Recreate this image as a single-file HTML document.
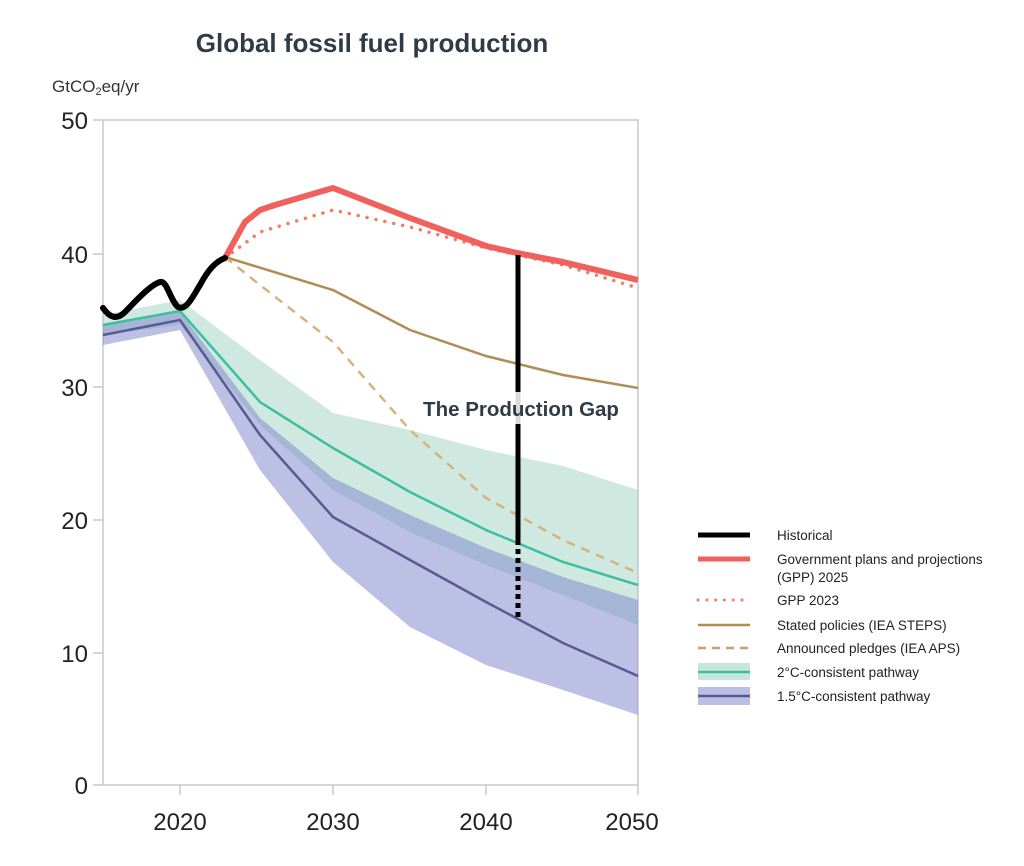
<!DOCTYPE html>
<html><head><meta charset="utf-8"><style>
body{margin:0;background:#fff}
svg{display:block}
text{font-family:"Liberation Sans",sans-serif}
</style></head><body>
<svg width="1024" height="866" viewBox="0 0 1024 866">
<text x="372" y="52" text-anchor="middle" font-size="26" font-weight="bold" fill="#2f3b45">Global fossil fuel production</text>
<text x="52" y="92" font-size="17" fill="#333">GtCO<tspan font-size="11" dy="3">2</tspan><tspan dy="-3">eq/yr</tspan></text>
<g stroke="#c8c8cc" stroke-width="1.5" fill="none">
<path d="M93 120H638V785M103 120V785H638M93 254H103M93 387H103M93 520H103M93 653H103M93 785H103M180 785V795M333 785V795M486 785V795M638 785V795"/>
</g>
<g font-size="24" fill="#222" text-anchor="end">
<text x="88" y="129">50</text><text x="88" y="263">40</text><text x="88" y="396">30</text><text x="88" y="529">20</text><text x="88" y="662">10</text><text x="88" y="794">0</text>
</g>
<g font-size="24" fill="#222" text-anchor="middle">
<text x="180" y="830">2020</text><text x="333" y="830">2030</text><text x="486" y="830">2040</text><text x="632" y="830">2050</text>
</g>
<path d="M103 315L180 300L260 360L333 413L410 430L486 450L563 466L638 490L638 625L563 595L486 565L410 532L333 490L260 425L180 325L103 335Z" fill="#9fd3c2" opacity="0.5"/>
<path d="M103 326L180 312L260 418L333 478L410 515L486 548L563 577L638 600L638 715L563 690L486 665L410 627L333 562L260 470L180 330L103 345Z" fill="#7b81cc" opacity="0.5"/>
<polyline points="103,325 180,311 260,402 333,448 410,492 486,530 563,562 638,585" fill="none" stroke="#3dbf9e" stroke-width="2.5"/>
<polyline points="103,335 180,320 260,435 333,517 410,560 486,602 563,643 638,676" fill="none" stroke="#5a5a8e" stroke-width="2.5"/>
<polyline points="225,257 333,290 410,330 486,356 563,375 638,388" fill="none" stroke="#b08d57" stroke-width="2.5"/>
<polyline points="225,257 260,285 333,342 410,430 486,498 563,540 638,573" fill="none" stroke="#d8b27e" stroke-width="2.5" stroke-dasharray="9,7"/>
<polyline points="225,258 260,232 333,210 410,227 486,248 563,265 638,288" fill="none" stroke="#f08060" stroke-width="3.5" stroke-dasharray="0.1,9" stroke-linecap="round"/>
<polyline points="225,258 245,222 260,210 275,205 333,188 410,218 486,246 517,253 563,262 638,280" fill="none" stroke="#f0605c" stroke-width="6" stroke-linejoin="round"/>
<path d="M103,308 C110,318 117,320 125,312 C135,302 150,285 160,282 C167,280 170,300 178,307 C186,311 192,298 200,285 C208,270 215,262 225,258" fill="none" stroke="#000" stroke-width="6" stroke-linecap="round"/>
<path d="M518 255V540" stroke="#000" stroke-width="5"/>
<path d="M518 540V620" stroke="#000" stroke-width="5" stroke-dasharray="5,4"/>
<rect x="418" y="392" width="206" height="32" fill="#fff" opacity="0.85"/>
<text x="521" y="416" text-anchor="middle" font-size="20.5" font-weight="bold" fill="#2f3b45">The Production Gap</text>
<g font-size="13.5" fill="#222">
<path d="M698 535H750" stroke="#000" stroke-width="5"/><text x="777" y="540">Historical</text>
<path d="M698 559H750" stroke="#f0605c" stroke-width="5"/><text x="777" y="564">Government plans and projections</text><text x="777" y="582">(GPP) 2025</text>
<path d="M698 600H750" stroke="#f08060" stroke-width="3" stroke-dasharray="0.1,8.7" stroke-linecap="round"/><text x="777" y="605">GPP 2023</text>
<path d="M698 625H750" stroke="#b08d57" stroke-width="2.5"/><text x="777" y="630">Stated policies (IEA STEPS)</text>
<path d="M698 648H750" stroke="#c9a06c" stroke-width="2.5" stroke-dasharray="8,6"/><text x="777" y="653">Announced pledges (IEA APS)</text>
<rect x="698" y="663" width="52" height="17" fill="#c9e6dc"/><path d="M698 672H750" stroke="#3dbf9e" stroke-width="2.5"/><text x="777" y="677">2°C-consistent pathway</text>
<rect x="698" y="687" width="52" height="18" fill="#bcbfe3"/><path d="M698 696H750" stroke="#5a5a8e" stroke-width="2.5"/><text x="777" y="701">1.5°C-consistent pathway</text>
</g>
</svg>
</body></html>
